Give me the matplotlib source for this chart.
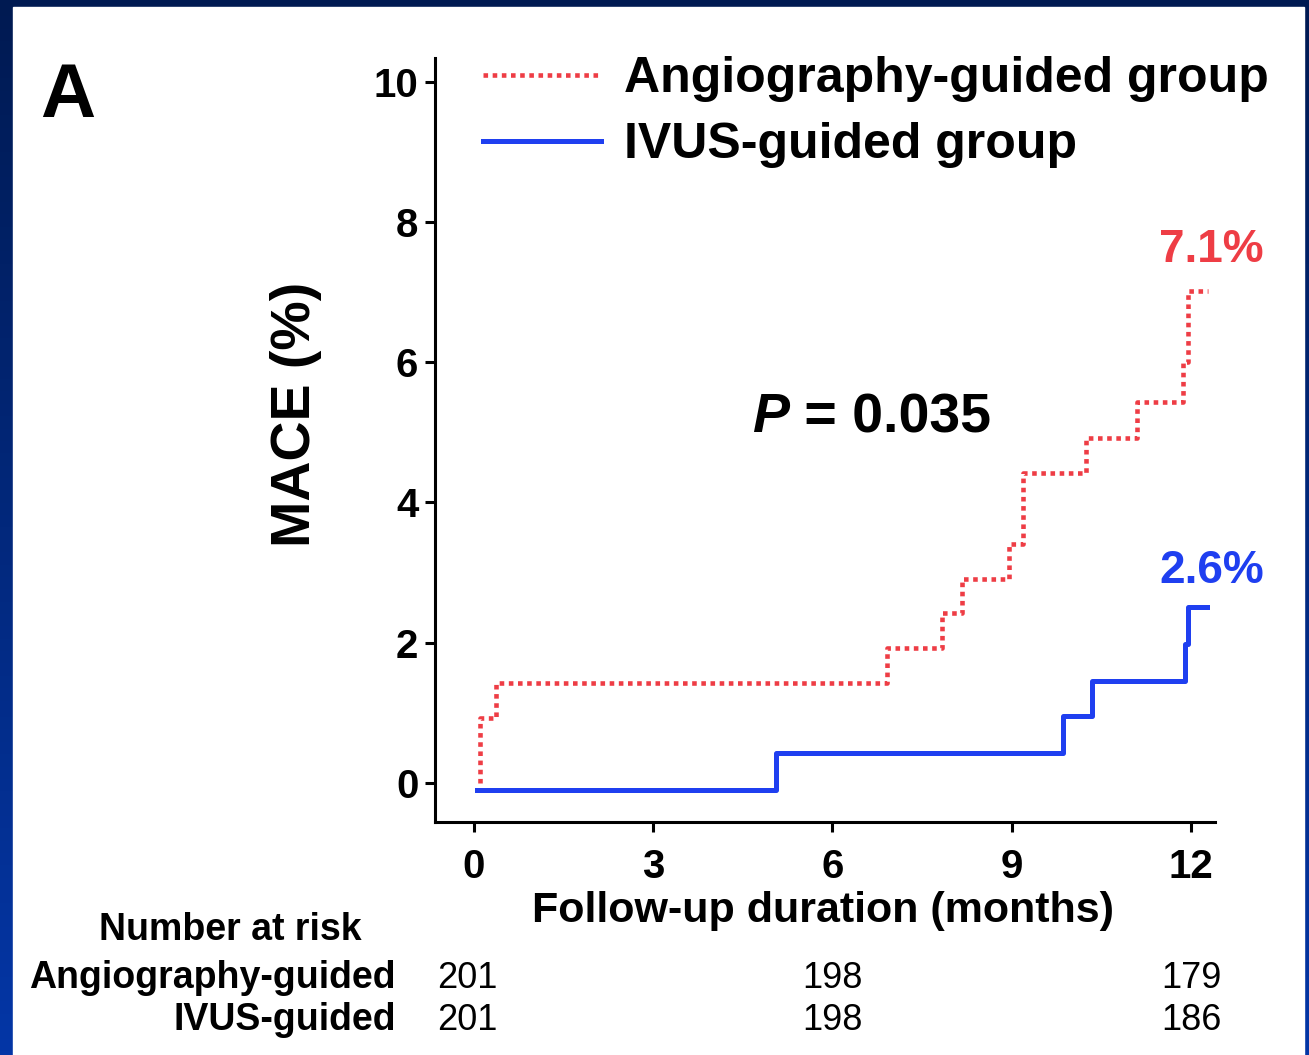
import numpy as np
import matplotlib
matplotlib.use('Agg')
import matplotlib.pyplot as plt
import matplotlib.transforms as mtransforms
from matplotlib.patches import Rectangle
from matplotlib.colors import LinearSegmentedColormap

plt.rcParams['font.family'] = ['Liberation Sans', 'DejaVu Sans']
plt.rcParams['font.weight'] = 'bold'
plt.rcParams['axes.labelweight'] = 'bold'

# Courbes de Kaplan-Meier, MACE en %
angio_time = [0.10, 0.10, 0.37, 6.92, 7.84, 8.17, 8.96, 9.18, 10.25, 11.09, 11.86, 11.94, 12.28]
angio_mace = [0.00, 0.92, 1.42, 1.92, 2.42, 2.91, 3.40, 4.42, 4.92, 5.43, 6.00, 7.02, 7.02]

ivus_time = [0.05, 5.06, 9.85, 10.35, 11.89, 11.94, 12.26]
ivus_mace = [-0.10, 0.43, 0.95, 1.45, 1.98, 2.51, 2.51]

# Effectifs à risque
risk_times = [0, 6, 12]
risk_angio = [201, 198, 179]
risk_ivus = [201, 198, 186]

x_ticks = [0, 3, 6, 9, 12]
y_ticks = [0, 2, 4, 6, 8, 10]

red = '#ee3d45'
blue = '#1f3ff0'

W, H = 1309, 1055
fig = plt.figure(figsize=(W / 100, H / 100), dpi=100)

# cadre bleu en dégradé + fond blanc
bg = fig.add_axes([0, 0, 1, 1], zorder=-1)
grad = np.linspace(0, 1, 256).reshape(-1, 1)
cmap = LinearSegmentedColormap.from_list('cadre', ['#001a52', '#0436a6'])
bg.imshow(grad, aspect='auto', cmap=cmap, extent=[0, W, H, 0])
bg.add_patch(Rectangle((13, 7), 1304 - 13, H - 7, color='white'))
bg.set_xlim(0, W)
bg.set_ylim(H, 0)
bg.axis('off')

ax = fig.add_axes([435 / W, 1 - 822 / H, (1215 - 435) / W, (822 - 58) / H])
ax.set_facecolor('white')

ax.step(angio_time, angio_mace, where='post', color=red, lw=3.3,
        linestyle=(0, (1, 1)), label='Angiography-guided group')
ax.step(ivus_time, ivus_mace, where='post', color=blue, lw=3.6,
        label='IVUS-guided group')

ax.set_xlim(-0.65, 12.4)
ax.set_ylim(-0.56, 10.34)
ax.set_xticks(x_ticks)
ax.set_yticks(y_ticks)
for s in ['top', 'right']:
    ax.spines[s].set_visible(False)
for s in ['left', 'bottom']:
    ax.spines[s].set_linewidth(2.2)
ax.tick_params(length=7, width=2.2, labelsize=29, direction='out')
ax.tick_params(axis='y', pad=5)
ax.tick_params(axis='x', pad=12)

ax.set_ylabel('MACE (%)', fontsize=40)
ax.yaxis.set_label_coords(-0.145, 0.534)
ax.set_xlabel('Follow-up duration (months)', fontsize=31)
ax.xaxis.set_label_coords(0.497, -0.090)

leg = ax.legend(loc='upper left', bbox_to_anchor=(483 / W, 1 - 56 / H),
                bbox_transform=fig.transFigure, frameon=False, fontsize=36,
                handlelength=2.36, handletextpad=0.47, labelspacing=0.4,
                borderpad=0, borderaxespad=0)

# annotations
p_txt = ax.text(4.65, 5.0, 'P', fontsize=40, style='italic', va='baseline')
ax.annotate(' = 0.035', xy=(1, 0), xycoords=p_txt, fontsize=40, va='bottom')
ax.text(12.34, 7.43, '7.1%', color=red, fontsize=33, ha='center', va='baseline')
ax.text(12.34, 2.85, '2.6%', color=blue, fontsize=33, ha='center', va='baseline')

fig.text(40 / W, 1 - 117 / H, 'A', fontsize=55, va='baseline')

# tableau des effectifs à risque
fig.text(362 / W, 1 - 940 / H, 'Number at risk', fontsize=27, ha='right', va='baseline')
fig.text(396 / W, 1 - 988 / H, 'Angiography-guided', fontsize=27, ha='right', va='baseline')
fig.text(396 / W, 1 - 1030 / H, 'IVUS-guided', fontsize=27, ha='right', va='baseline')
trans = mtransforms.blended_transform_factory(ax.transData, fig.transFigure)
for t, a, i in zip(risk_times, risk_angio, risk_ivus):
    # la première colonne est légèrement décalée vers la gauche dans l'original
    ha = 'left' if t == risk_times[0] else 'center'
    tt = t - 0.62 if t == risk_times[0] else t
    ax.text(tt, 1 - 988 / H, str(a), transform=trans, fontsize=26, fontweight='normal',
            ha=ha, va='baseline', clip_on=False)
    ax.text(tt, 1 - 1030 / H, str(i), transform=trans, fontsize=26, fontweight='normal',
            ha=ha, va='baseline', clip_on=False)

fig.savefig('out.png', dpi=100)
